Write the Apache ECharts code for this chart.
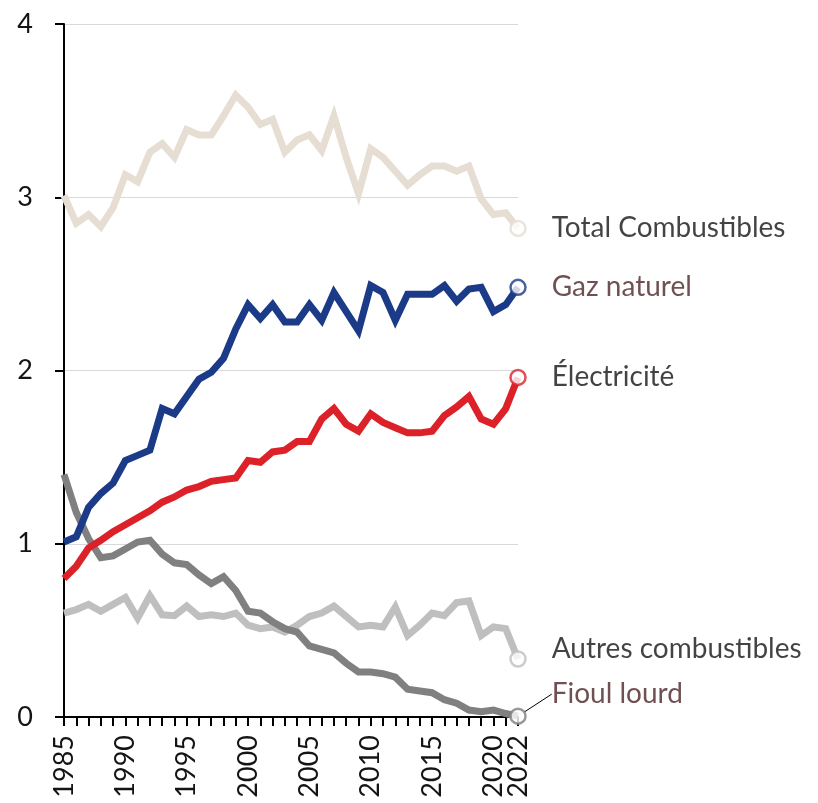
<!DOCTYPE html>
<html>
<head>
<meta charset="utf-8">
<script src="https://cdn.jsdelivr.net/npm/echarts@6/dist/echarts.min.js"></script>
<style>
  html, body { margin: 0; padding: 0; background: #fff; }
  #chart { width: 818px; height: 803px; }
</style>
</head>
<body>
<div id="chart"></div>
<script>
// années 1985 -> 2022
var years = [1985, 1986, 1987, 1988, 1989, 1990, 1991, 1992, 1993, 1994,
  1995, 1996, 1997, 1998, 1999, 2000, 2001, 2002, 2003, 2004,
  2005, 2006, 2007, 2008, 2009, 2010, 2011, 2012, 2013, 2014,
  2015, 2016, 2017, 2018, 2019, 2020, 2021, 2022]

var totalCombustibles = [3.01, 2.85, 2.90, 2.83, 2.94, 3.13, 3.09, 3.26, 3.31, 3.23,
  3.39, 3.36, 3.36, 3.47, 3.59, 3.52, 3.42, 3.45, 3.26, 3.33,
  3.36, 3.27, 3.47, 3.23, 3.02, 3.28, 3.23, 3.15, 3.07, 3.13,
  3.18, 3.18, 3.15, 3.18, 2.99, 2.90, 2.91, 2.82]

var gazNaturel = [1.01, 1.04, 1.21, 1.29, 1.35, 1.48, 1.51, 1.54, 1.78, 1.75,
  1.85, 1.95, 1.99, 2.07, 2.24, 2.38, 2.30, 2.38, 2.28, 2.28,
  2.38, 2.29, 2.45, 2.34, 2.23, 2.49, 2.45, 2.29, 2.44, 2.44,
  2.44, 2.49, 2.40, 2.47, 2.48, 2.34, 2.38, 2.48]

var electricite = [0.80, 0.87, 0.975, 1.02, 1.07, 1.11, 1.15, 1.19, 1.24, 1.27,
  1.31, 1.33, 1.36, 1.37, 1.38, 1.48, 1.47, 1.53, 1.54, 1.59,
  1.59, 1.72, 1.78, 1.69, 1.65, 1.75, 1.70, 1.67, 1.64, 1.64,
  1.65, 1.74, 1.79, 1.85, 1.72, 1.69, 1.78, 1.96]

var autresCombustibles = [0.60, 0.62, 0.65, 0.61, 0.65, 0.69, 0.57, 0.70, 0.59, 0.585,
  0.64, 0.58, 0.59, 0.58, 0.60, 0.53, 0.51, 0.52, 0.49, 0.53,
  0.58, 0.60, 0.64, 0.58, 0.52, 0.53, 0.52, 0.635, 0.47, 0.53,
  0.60, 0.585, 0.66, 0.67, 0.47, 0.52, 0.51, 0.335]

var fioulLourd = [1.40, 1.18, 1.03, 0.92, 0.93, 0.97, 1.01, 1.02, 0.94, 0.89,
  0.88, 0.82, 0.77, 0.81, 0.73, 0.61, 0.60, 0.55, 0.51, 0.49,
  0.41, 0.39, 0.37, 0.31, 0.26, 0.26, 0.25, 0.23, 0.16, 0.15,
  0.14, 0.10, 0.08, 0.04, 0.03, 0.04, 0.02, 0.005]

var yTicks = [0, 1, 2, 3, 4]
var yearLabels = [1985, 1990, 1995, 2000, 2005, 2010, 2015, 2020]
var lastYearLabel = [2022]

var font = 'Lato, "Open Sans", sans-serif'

var lignes = [
  { name: 'Total Combustibles', data: totalCombustibles, color: '#e6ddd3', text: '#141414', dy: 0 },
  { name: 'Autres combustibles', data: autresCombustibles, color: '#bfbfbf', text: '#141414', dy: -10 },
  { name: 'Fioul lourd', data: fioulLourd, color: '#808080', text: '#4b2628', dy: -22 },
  { name: 'Électricité', data: electricite, color: '#dc2129', text: '#141414', dy: 0 },
  { name: 'Gaz naturel', data: gazNaturel, color: '#1b3a87', text: '#4b2628', dy: 0 }
]

function paires (vals) {
  return vals.map(function (v, i) { return [years[i], v] })
}

var series = lignes.map(function (l) {
  return {
    name: l.name,
    type: 'line',
    data: paires(l.data),
    symbol: 'none',
    lineStyle: { color: l.color, width: 7, join: 'miter', cap: 'butt' },
    itemStyle: { color: l.color },
    silent: true
  }
})

// cercles de fin + étiquettes
var last = years.length - 1
series.push({
  type: 'scatter',
  z: 5,
  symbol: 'circle',
  symbolSize: 15,
  data: lignes.map(function (l) {
    return {
      name: l.name,
      value: [years[last], l.data[last]],
      itemStyle: { color: '#fff', borderColor: l.color, borderWidth: 2.5 },
      label: { color: l.text },
      labelLine: { show: l.dy < -15 }
    }
  }),
  label: {
    show: true,
    position: 'right',
    distance: 25,
    fontFamily: font,
    fontSize: 28,
    formatter: function (p) { return p.name }
  },
  labelLayout: function (p) {
    return { dy: lignes[p.dataIndex].dy }
  },
  labelLine: {
    show: false,
    lineStyle: { color: '#000', width: 1 }
  }
})

var xLabel = {
  formatter: function (v) { return String(v) },
  rotate: 90,
  margin: 18,
  hideOverlap: false,
  showMinLabel: true,
  showMaxLabel: true,
  color: '#141414',
  fontFamily: font,
  fontSize: 27
}

var chart = echarts.init(document.getElementById('chart'), null, { renderer: 'canvas' })
chart.setOption({
  animation: false,
  backgroundColor: '#fff',
  grid: { left: 64, right: 300, top: 24, bottom: 86, containLabel: false },
  xAxis: [{
    type: 'value',
    min: years[0],
    max: years[last],
    axisLine: { lineStyle: { color: '#000', width: 2 } },
    axisTick: { show: true, customValues: years, length: 9, lineStyle: { color: '#000', width: 2 } },
    axisLabel: Object.assign({ customValues: yearLabels }, xLabel),
    splitLine: { show: false }
  }, {
    // 2022 à part : sinon masqué car il chevauche 2020
    type: 'value',
    position: 'bottom',
    min: years[0],
    max: years[last],
    axisLine: { show: false },
    axisTick: { show: false },
    axisLabel: Object.assign({ customValues: lastYearLabel }, xLabel),
    splitLine: { show: false }
  }],
  yAxis: {
    type: 'value',
    min: yTicks[0],
    max: yTicks[yTicks.length - 1],
    interval: 1,
    axisLine: { show: true, lineStyle: { color: '#000', width: 2 } },
    axisTick: { show: true, length: 9, lineStyle: { color: '#000', width: 2 } },
    axisLabel: { margin: 31, color: '#141414', fontFamily: font, fontSize: 27 },
    splitLine: { lineStyle: { color: '#d9d9d9', width: 1 } }
  },
  series: series
})
</script>
</body>
</html>
